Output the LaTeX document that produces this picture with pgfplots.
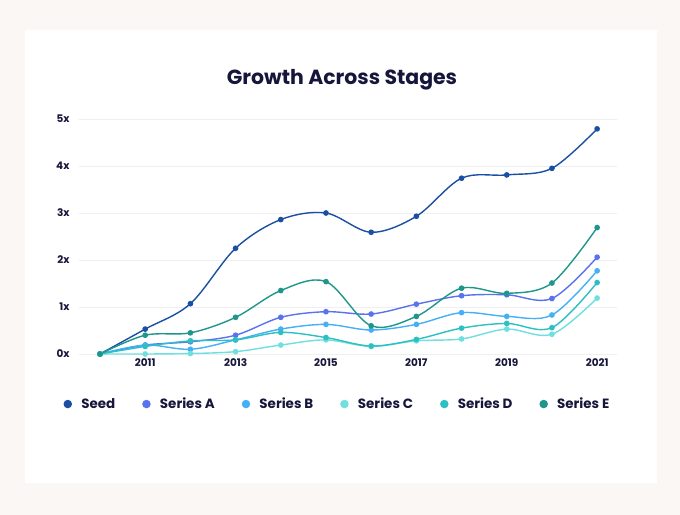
\documentclass[border=0pt]{standalone}
\usepackage{pgfplots}
\usepackage{pgfplotstable}
\pgfplotsset{compat=1.18}
\usepackage{fontspec}
\setmainfont{Poppins}
\definecolor{bgout}{HTML}{FBF7F4}
\definecolor{titlec}{HTML}{16163A}
\definecolor{gridc}{HTML}{EFEFF2}
\definecolor{cseed}{HTML}{1B4FA3}
\definecolor{ca}{HTML}{5A72EE}
\definecolor{cb}{HTML}{45B0F5}
\definecolor{cc}{HTML}{70DFE0}
\definecolor{cd}{HTML}{2CC0C3}
\definecolor{ce}{HTML}{1F968C}
\pgfplotstableread{
year seed a b c d e
2010 0 0 0 0 0 0
2011 0.53 0.19 0.19 0.00 0.16 0.40
2012 1.07 0.26 0.10 0.01 0.28 0.45
2013 2.25 0.40 0.30 0.05 0.30 0.78
2014 2.86 0.78 0.53 0.19 0.46 1.35
2015 3.00 0.90 0.63 0.30 0.35 1.54
2016 2.59 0.85 0.51 0.16 0.17 0.60
2017 2.93 1.06 0.63 0.28 0.31 0.80
2018 3.74 1.24 0.88 0.32 0.55 1.40
2019 3.81 1.26 0.80 0.53 0.65 1.29
2020 3.95 1.18 0.83 0.42 0.56 1.51
2021 4.79 2.06 1.77 1.19 1.52 2.69
}\datatable
\begin{document}
\begin{tikzpicture}[x=1bp,y=1bp]
\fill[bgout] (0,0) rectangle (680,515);
\fill[white] (25,32) rectangle (657,485);
\node[font=\bfseries\fontsize{20.5}{24}\selectfont, text=titlec] at (342,435) {Growth Across Stages};
\begin{axis}[
  at={(79bp,161bp)}, anchor=south west,
  scale only axis, width=538bp, height=235bp,
  xmin=2009.535, xmax=2021.44, ymin=0, ymax=5,
  axis line style={draw=none},
  tick style={draw=none},
  ymajorgrids, grid style={color=gridc, line width=0.8bp},
  xtick={2011,2013,2015,2017,2019,2021},
  xticklabels={2011,2013,2015,2017,2019,2021},
  ytick={0,1,2,3,4,5},
  yticklabels={0x,1x,2x,3x,4x,5x},
  ticklabel style={font=\bfseries\fontsize{10.5}{12}\selectfont, text=titlec},
  y tick label style={xshift=-6bp},
  x tick label style={yshift=-1bp},
  clip=false,
  every axis plot/.append style={smooth, tension=0.55, line width=1.4bp, mark=*, mark size=2.1bp, mark options={solid}},
  legend columns=6,
  legend style={draw=none, fill=none, at={(-0.029,-0.213)}, anchor=west,
    font=\bfseries\fontsize{13.5}{16}\selectfont, text=titlec, inner sep=0pt,
    /tikz/every even column/.append style={column sep=25bp}},
  legend image code/.code={\fill[#1] (3.5bp,0bp) circle (3.5bp); \path[draw=none,fill=none] (0bp,0bp) -- (15bp,0bp);},
]
\addplot[color=cseed] table[x=year,y=seed] {\datatable};
\addlegendentry{Seed}
\addplot[color=ca] table[x=year,y=a] {\datatable};
\addlegendentry{Series A}
\addplot[color=cb] table[x=year,y=b] {\datatable};
\addlegendentry{Series B}
\addplot[color=cc] table[x=year,y=c] {\datatable};
\addlegendentry{Series C}
\addplot[color=cd] table[x=year,y=d] {\datatable};
\addlegendentry{Series D}
\addplot[color=ce] table[x=year,y=e] {\datatable};
\addlegendentry{Series E}
\end{axis}
\end{tikzpicture}
\end{document}
